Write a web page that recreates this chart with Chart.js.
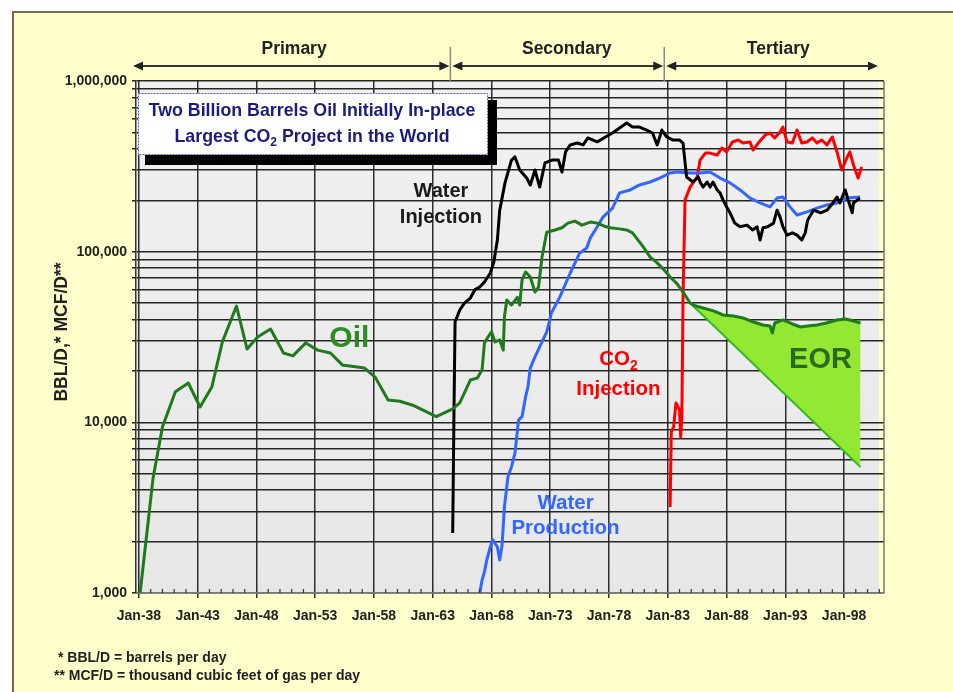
<!DOCTYPE html>
<html>
<head>
<meta charset="utf-8">
<script src="https://cdn.jsdelivr.net/npm/chart.js@4.4.1/dist/chart.umd.min.js"></script>
<style>
  html, body { margin: 0; padding: 0; background: #fff; }
  #wrap { width: 953px; height: 692px; }
</style>
</head>
<body>
<div id="wrap"><canvas id="chart" width="953" height="692"></canvas></div>
<script>
// [year, rate] (BBL/D or MCF/D)
const oil = [
  [1938.1, 1000], [1939.2, 4700], [1940.0, 9400], [1941.1, 15100], [1942.2, 17000], [1943.2, 12300],
  [1944.2, 16100], [1945.1, 29600], [1946.3, 48000], [1947.2, 26900], [1948.1, 31600], [1949.2, 35200],
  [1950.3, 25500], [1951.1, 24500], [1952.2, 29200], [1953.2, 26500], [1954.3, 25500], [1955.3, 21700],
  [1957.2, 20800], [1958.1, 18400], [1959.2, 13500], [1960.2, 13300], [1961.3, 12600], [1963.3, 10800],
  [1964.7, 12000], [1965.3, 13000], [1966.2, 17700], [1966.8, 18200], [1967.2, 20300], [1967.4, 29200],
  [1967.7, 31600], [1968.0, 33900], [1968.3, 29600], [1968.7, 30400], [1969.0, 26500], [1969.1, 41400],
  [1969.3, 52100], [1969.7, 48700], [1970.2, 54000], [1970.4, 48700], [1970.6, 68300], [1970.9, 76000],
  [1971.3, 71000], [1971.7, 58000], [1972.0, 62000], [1972.3, 93000], [1972.7, 130000], [1973.4, 134000],
  [1974.0, 138000], [1974.5, 147000], [1975.1, 151000], [1975.7, 143000], [1976.4, 149000], [1977.0, 147000],
  [1977.6, 141000], [1978.1, 138000], [1978.9, 136000], [1979.5, 134000], [1980.0, 129000], [1980.9, 107000],
  [1981.5, 93000], [1982.1, 86000], [1982.7, 78000], [1983.2, 71000], [1983.8, 64700], [1984.3, 58000],
  [1984.9, 50000], [1985.4, 48000], [1986.0, 46800], [1986.9, 45000], [1987.7, 42600], [1988.6, 42000],
  [1989.4, 40900], [1990.3, 38700], [1991.1, 37200], [1991.7, 36700], [1991.9, 33400], [1992.1, 38200],
  [1992.8, 39800], [1993.6, 37700], [1994.3, 36200], [1994.9, 36700], [1995.7, 37200], [1996.5, 38200],
  [1997.4, 39800], [1998.1, 40300], [1998.5, 39800], [1999.4, 38200]
];

const waterInjection = [
  [1964.7, 2250], [1964.8, 10300], [1964.9, 38700], [1965.3, 45500], [1965.7, 50000], [1966.2, 53500],
  [1966.6, 60000], [1967.0, 62000], [1967.4, 66400], [1967.9, 75000], [1968.2, 87000], [1968.5, 117000],
  [1968.7, 175000], [1969.15, 253000], [1969.7, 344000], [1970.0, 359000], [1970.4, 301000], [1971.0, 270000],
  [1971.3, 246000], [1971.7, 301000], [1972.1, 239000], [1972.55, 331000], [1973.15, 344000], [1973.7, 344000],
  [1974.0, 293000], [1974.3, 384000], [1974.7, 422000], [1975.3, 433000], [1975.8, 422000], [1976.2, 464000],
  [1977.0, 440000], [1977.7, 470000], [1978.3, 496000], [1978.9, 531000], [1979.5, 567000], [1980.0, 537000],
  [1980.6, 537000], [1981.2, 516000], [1981.7, 496000], [1982.1, 422000], [1982.5, 516000], [1982.9, 470000],
  [1983.45, 451000], [1984.0, 451000], [1984.3, 433000], [1984.6, 274000], [1985.15, 256000], [1985.6, 274000],
  [1985.75, 256000], [1986.0, 239000], [1986.35, 256000], [1986.6, 239000], [1986.85, 256000], [1987.2, 230000],
  [1987.45, 221000], [1987.7, 201000], [1988.0, 183000], [1988.3, 169000], [1988.7, 147000], [1989.15, 140000],
  [1989.75, 143000], [1990.2, 134000], [1990.6, 140000], [1990.85, 117000], [1991.1, 138000], [1991.5, 140000],
  [1992.0, 147000], [1992.3, 175000], [1992.55, 160000], [1992.8, 140000], [1993.15, 125000], [1993.6, 129000],
  [1994.0, 125000], [1994.4, 117000], [1994.7, 129000], [1994.9, 153000], [1995.4, 175000], [1996.0, 169000],
  [1996.55, 175000], [1997.05, 193000], [1997.4, 209000], [1997.65, 193000], [1998.1, 230000], [1998.35, 201000],
  [1998.7, 169000], [1998.8, 193000], [1999.35, 206000]
];

const waterProduction = [
  [1967.0, 1000], [1967.2, 1190], [1967.4, 1330], [1967.6, 1560], [1967.9, 1860], [1968.1, 2050],
  [1968.5, 1860], [1968.7, 1560], [1968.9, 1910], [1969.1, 3190], [1969.4, 4800], [1969.7, 5480],
  [1970.0, 6620], [1970.3, 10300], [1970.6, 10800], [1970.9, 14100], [1971.1, 16100], [1971.3, 20800],
  [1971.7, 24200], [1972.1, 27700], [1972.7, 33900], [1973.1, 43700], [1973.8, 54000], [1974.7, 75000],
  [1975.5, 98000], [1976.1, 105000], [1976.4, 120000], [1977.0, 140000], [1977.5, 160000], [1978.3, 180000],
  [1978.9, 221000], [1979.8, 230000], [1980.6, 246000], [1981.5, 256000], [1982.3, 270000], [1983.2, 289000],
  [1983.8, 293000], [1984.9, 289000], [1985.75, 289000], [1986.6, 293000], [1987.45, 270000], [1988.3, 253000],
  [1989.15, 230000], [1990.0, 206000], [1990.85, 193000], [1991.7, 183000], [1992.3, 206000], [1992.8, 209000],
  [1993.4, 183000], [1994.0, 164000], [1994.85, 171000], [1995.7, 180000], [1996.55, 188000], [1997.4, 193000],
  [1998.26, 206000], [1999.36, 209000]
];

const co2Injection = [
  [1983.2, 3190], [1983.3, 8800], [1983.5, 9400], [1983.7, 13000], [1984.0, 11800], [1984.1, 8200],
  [1984.2, 10800], [1984.3, 54000], [1984.47, 201000], [1984.9, 239000], [1985.5, 274000], [1985.75, 344000],
  [1986.2, 378000], [1986.6, 378000], [1987.2, 368000], [1987.6, 405000], [1988.0, 384000], [1988.5, 439000],
  [1989.0, 451000], [1989.4, 433000], [1990.0, 439000], [1990.26, 394000], [1990.7, 433000], [1991.3, 483000],
  [1991.7, 496000], [1992.1, 464000], [1992.55, 503000], [1992.8, 537000], [1993.15, 439000], [1993.6, 433000],
  [1994.0, 516000], [1994.4, 433000], [1994.85, 439000], [1995.3, 464000], [1995.7, 433000], [1996.1, 451000],
  [1996.55, 422000], [1997.0, 470000], [1997.4, 384000], [1997.8, 301000], [1998.25, 356000], [1998.5, 384000],
  [1998.8, 322000], [1999.2, 270000], [1999.5, 314000]
];

// primary+secondary decline trend that bounds the EOR wedge
const eorBaseline = [[1984.9, 50000], [1999.4, 5480]];

const xTickYears = [1938, 1943, 1948, 1953, 1958, 1963, 1968, 1973, 1978, 1983, 1988, 1993, 1998];
const xTickLabels = ['Jan-38', 'Jan-43', 'Jan-48', 'Jan-53', 'Jan-58', 'Jan-63', 'Jan-68', 'Jan-73', 'Jan-78', 'Jan-83', 'Jan-88', 'Jan-93', 'Jan-98'];
const yLabelValues = [1000, 10000, 100000, 1000000];
const yTickLabels = ['1,000', '10,000', '100,000', '1,000,000'];

const phaseNames = ['Primary', 'Secondary', 'Tertiary'];
const phaseLabelYears = [1951.2, 1974.4, 1992.4];
const phaseBounds = [1964.5, 1982.7];

const FONT = '"Liberation Sans", Arial, sans-serif';

// text labels on the plot: [text, year, value, colour, size]
const notes = [
  ['Water', 1963.7, 231000, '#1a1a1a', 20],
  ['Injection', 1963.7, 163000, '#1a1a1a', 20],
  ['Oil', 1955.9, 32100, '#2e8b22', 30],
  ['Injection', 1978.8, 15900, '#ff0000', 20.5],
  ['Water', 1974.3, 3420, '#3366ff', 20.5],
  ['Production', 1974.3, 2440, '#3366ff', 20.5],
  ['EOR', 1996.0, 23800, '#2b6b1f', 29]
];

const yGridValues = [];
[1000, 10000, 100000].forEach(d => { for (let m = 1; m < 10; m++) yGridValues.push(d * m); });
yGridValues.push(1000000);

const toXY = arr => arr.map(([x, y]) => ({x, y}));

// text centred on the middle of its capitals; parts may hold a subscript
function capText(ctx, parts, cx, cy, size, color, align = 'center') {
  const subSize = Math.round(size * 0.68);
  let total = 0;
  parts.forEach(([t, sub]) => {
    ctx.font = `bold ${sub ? subSize : size}px ${FONT}`;
    total += ctx.measureText(t).width;
  });
  let x = align === 'center' ? cx - total / 2 : cx;
  const base = cy + size * 0.358;
  ctx.fillStyle = color;
  ctx.textAlign = 'left';
  ctx.textBaseline = 'alphabetic';
  parts.forEach(([t, sub]) => {
    ctx.font = `bold ${sub ? subSize : size}px ${FONT}`;
    ctx.fillText(t, x, sub ? base + size * 0.22 : base);
    x += ctx.measureText(t).width;
  });
}

function head(ctx, tip, y, dir) {
  ctx.beginPath();
  ctx.moveTo(tip, y);
  ctx.lineTo(tip - dir * 10, y - 4.5);
  ctx.lineTo(tip - dir * 10, y + 4.5);
  ctx.closePath();
  ctx.fill();
}

const decor = {
  id: 'decor',
  beforeDraw(chart) {
    const {ctx, chartArea: a} = chart;
    ctx.save();
    ctx.fillStyle = '#ffffff';
    ctx.fillRect(0, 0, chart.width, chart.height);
    ctx.fillStyle = '#ffffcc';
    ctx.fillRect(12, 11, chart.width - 12, chart.height - 11);
    ctx.strokeStyle = '#806646';
    ctx.lineWidth = 2;
    ctx.beginPath();
    ctx.moveTo(13, chart.height);
    ctx.lineTo(13, 12);
    ctx.lineTo(chart.width, 12);
    ctx.stroke();
    const g = ctx.createLinearGradient(0, a.top, 0, a.bottom);
    g.addColorStop(0, '#f1f1f1');
    g.addColorStop(1, '#e7e7e7');
    ctx.fillStyle = g;
    ctx.fillRect(a.left, a.top, a.right - 5 - a.left, a.bottom - a.top);
    ctx.restore();
  },
  afterDraw(chart) {
    const {ctx, chartArea: a} = chart;
    const xs = chart.scales.x, ys = chart.scales.y;
    ctx.save();

    // right frame line
    ctx.strokeStyle = '#777';
    ctx.lineWidth = 1.5;
    ctx.beginPath();
    ctx.moveTo(a.right, a.top);
    ctx.lineTo(a.right, a.bottom);
    ctx.stroke();

    // yearly minor ticks
    ctx.strokeStyle = '#333';
    ctx.lineWidth = 1.2;
    for (let yr = 1939; yr <= 2001; yr++) {
      if ((yr - 1938) % 5 === 0) continue;
      const px = xs.getPixelForValue(yr);
      ctx.beginPath();
      ctx.moveTo(px, a.bottom);
      ctx.lineTo(px, a.bottom - 4);
      ctx.stroke();
    }

    // phase arrows
    const yA = a.top - 15;
    const b1 = xs.getPixelForValue(phaseBounds[0]);
    const b2 = xs.getPixelForValue(phaseBounds[1]);
    ctx.strokeStyle = '#888';
    ctx.lineWidth = 1.5;
    [b1, b2].forEach(b => {
      ctx.beginPath();
      ctx.moveTo(b, a.top - 34);
      ctx.lineTo(b, a.top);
      ctx.stroke();
    });
    ctx.strokeStyle = '#333';
    ctx.fillStyle = '#222';
    ctx.lineWidth = 2;
    [[a.left - 3, b1 - 1], [b1 + 2, b2 - 1], [b2 + 2, a.right - 6]].forEach(([l, r]) => {
      ctx.beginPath();
      ctx.moveTo(l + 4, yA);
      ctx.lineTo(r - 4, yA);
      ctx.stroke();
      head(ctx, l, yA, -1);
      head(ctx, r, yA, 1);
    });
    phaseNames.forEach((n, i) =>
      capText(ctx, [[n, false]], xs.getPixelForValue(phaseLabelYears[i]), a.top - 33, 17.5, '#222'));

    // plot labels
    notes.forEach(([t, yr, v, c, s]) =>
      capText(ctx, [[t, false]], xs.getPixelForValue(yr), ys.getPixelForValue(v), s, c));
    capText(ctx, [['CO', false], ['2', true]], xs.getPixelForValue(1978.8), ys.getPixelForValue(23800), 20.5, '#ff0000');

    // title box
    ctx.fillStyle = '#000';
    ctx.fillRect(145, 100, 352, 65);
    ctx.fillStyle = '#fff';
    ctx.fillRect(138, 93, 350, 62);
    ctx.strokeStyle = '#5060b0';
    ctx.lineWidth = 1;
    ctx.setLineDash([2, 1]);
    ctx.strokeRect(138.5, 93.5, 349, 61);
    ctx.setLineDash([]);
    capText(ctx, [['Two Billion Barrels Oil Initially In-place', false]], 312, 110, 17.8, '#1c1c80');
    capText(ctx, [['Largest CO', false], ['2', true], [' Project in the World', false]], 312, 135.5, 17.8, '#1c1c80');

    // y title
    ctx.save();
    ctx.translate(61, 332);
    ctx.rotate(-Math.PI / 2);
    capText(ctx, [['BBL/D,* MCF/D**', false]], 0, 0, 17.5, '#222');
    ctx.restore();

    // footnotes
    capText(ctx, [['* BBL/D = barrels per day', false]], 58, 657, 14, '#222', 'left');
    capText(ctx, [['** MCF/D = thousand cubic feet of gas per day', false]], 54, 674.5, 14, '#222', 'left');
    ctx.restore();
  }
};

const lineDs = (label, data, color, width) => ({
  label, data: toXY(data), borderColor: color, borderWidth: width,
  pointRadius: 0, fill: false, tension: 0, borderJoinStyle: 'round'
});

new Chart(document.getElementById('chart').getContext('2d'), {
  type: 'line',
  data: {
    datasets: [
      lineDs('Oil', oil, '#1f7a1c', 3),
      lineDs('Water Injection', waterInjection, '#000000', 3),
      lineDs('Water Production', waterProduction, '#3366ff', 3),
      lineDs('CO2 Injection', co2Injection, '#ff0000', 3),
      Object.assign(lineDs('EOR', eorBaseline, '#33bb22', 2), {
        fill: {target: 0}, backgroundColor: '#92e832'
      })
    ]
  },
  options: {
    responsive: false,
    animation: false,
    layout: {padding: {top: 81, right: 69, bottom: 59, left: 0}},
    plugins: {legend: {display: false}, tooltip: {enabled: false}},
    scales: {
      x: {
        type: 'linear',
        min: 1937.75,
        max: 2001.4,
        afterBuildTicks: s => { s.ticks = xTickYears.map(v => ({value: v})); },
        afterFit: s => { s.height = 40; },
        ticks: {
          callback: v => xTickLabels[xTickYears.indexOf(v)] ?? '',
          font: {family: FONT, weight: 'bold', size: 14},
          color: '#222', padding: 10, maxRotation: 0, autoSkip: false
        },
        grid: {color: '#2e2e2e', lineWidth: 1.5, tickLength: 5},
        border: {color: '#777', width: 1.5}
      },
      y: {
        type: 'logarithmic',
        min: 1000,
        max: 1000000,
        afterBuildTicks: s => { s.ticks = yGridValues.map(v => ({value: v})); },
        afterFit: s => { s.width = 136; },
        ticks: {
          callback: v => yTickLabels[yLabelValues.indexOf(v)] ?? '',
          font: {family: FONT, weight: 'bold', size: 14},
          color: '#222', padding: 5, autoSkip: false
        },
        grid: {color: '#262626', lineWidth: 1.5, tickLength: 4},
        border: {color: '#333', width: 1.5}
      }
    }
  },
  plugins: [decor]
});
</script>
</body>
</html>
